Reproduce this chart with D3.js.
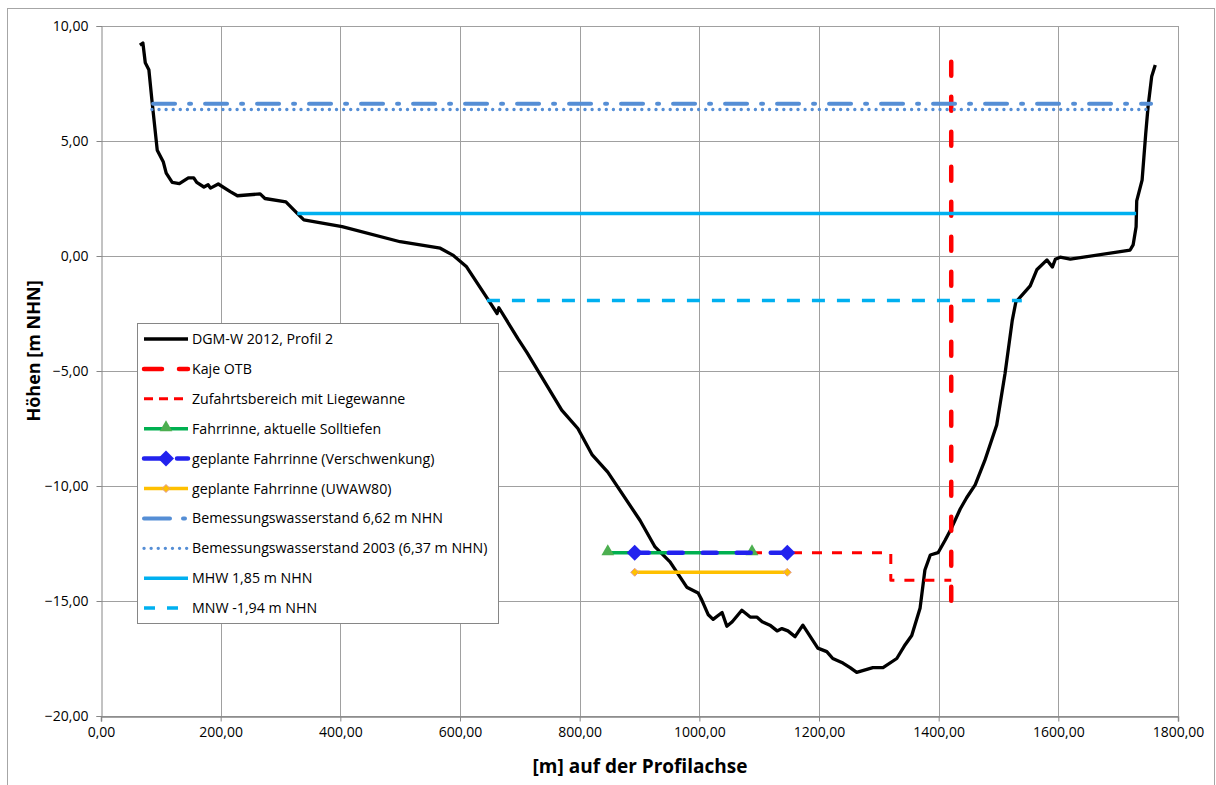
<!DOCTYPE html>
<html>
<head>
<meta charset="utf-8">
<script src="https://cdn.jsdelivr.net/npm/d3@7"></script>
<style>
  body { margin: 0; background: #fff; }
  text { font-family: "Open Sans", sans-serif; }
</style>
</head>
<body>
<div id="chart"></div>
<script>
// Querprofil 2 - Höhen entlang der Profilachse
const profileX = [65, 70, 74, 80, 85, 94, 104, 109, 119, 131, 146, 155, 160, 172, 179, 183, 196, 216, 228, 266, 274, 309, 328, 339, 403, 500, 567, 588, 611, 647, 662, 665, 697, 712, 770, 797, 821, 847, 901, 926, 951, 979, 998, 1004, 1015, 1023, 1038, 1046, 1055, 1071, 1085, 1096, 1105, 1118, 1130, 1138, 1148, 1160, 1173, 1198, 1213, 1223, 1240, 1252, 1263, 1290, 1307, 1330, 1344, 1355, 1369, 1377, 1386, 1399, 1411, 1422, 1436, 1447, 1461, 1477, 1497, 1511, 1523, 1529, 1536, 1553, 1564, 1581, 1590, 1595, 1603, 1620, 1720, 1725, 1730, 1731, 1740, 1743, 1746, 1750, 1756, 1762];
const profileY = [9.17, 9.26, 8.4, 8.1, 6.8, 4.6, 4.1, 3.6, 3.2, 3.15, 3.4, 3.4, 3.2, 3.0, 3.1, 2.95, 3.13, 2.8, 2.62, 2.7, 2.5, 2.35, 1.85, 1.57, 1.28, 0.62, 0.34, 0.04, -0.47, -1.9, -2.5, -2.25, -3.6, -4.2, -6.7, -7.5, -8.65, -9.4, -11.5, -12.65, -13.3, -14.4, -14.65, -14.95, -15.6, -15.8, -15.5, -16.1, -15.9, -15.4, -15.7, -15.7, -15.9, -16.05, -16.3, -16.2, -16.3, -16.55, -16.05, -17.05, -17.2, -17.5, -17.7, -17.9, -18.1, -17.9, -17.9, -17.5, -16.9, -16.5, -15.3, -13.65, -13.0, -12.9, -12.35, -11.8, -11.0, -10.5, -9.95, -8.9, -7.35, -5.1, -2.8, -2.0, -1.8, -1.3, -0.6, -0.17, -0.48, -0.14, -0.05, -0.14, 0.26, 0.48, 1.27, 2.4, 3.3, 4.3, 5.3, 6.5, 7.8, 8.3];

const kajeX = [1421, 1421];
const kajeY = [8.45, -15.05];
const zufahrtX = [1088, 1320, 1320, 1421];
const zufahrtY = [-12.9, -12.9, -14.1, -14.1];
const fahrrinneX = [847, 1088];
const fahrrinneY = [-12.9, -12.9];
const verschwenkungX = [892, 1147];
const verschwenkungY = [-12.9, -12.9];
const uwawX = [892, 1147];
const uwawY = [-13.75, -13.75];
const bemX = [87, 1755];
const bemY = [6.62, 6.62];
const bem2003X = [85, 1752];
const bem2003Y = [6.37, 6.37];
const mhwX = [328, 1730];
const mhwY = [1.85, 1.85];
const mnwX = [645, 1539];
const mnwY = [-1.94, -1.94];

const xTicks = [0, 200, 400, 600, 800, 1000, 1200, 1400, 1600, 1800];
const yTicks = [10, 5, 0, -5, -10, -15, -20];

const legendLabels = [
    "DGM-W 2012, Profil 2",
    "Kaje OTB",
    "Zufahrtsbereich mit Liegewanne",
    "Fahrrinne, aktuelle Solltiefen",
    "geplante Fahrrinne (Verschwenkung)",
    "geplante Fahrrinne (UWAW80)",
    "Bemessungswasserstand 6,62 m NHN",
    "Bemessungswasserstand 2003 (6,37 m NHN)",
    "MHW 1,85 m NHN",
    "MNW -1,94 m NHN"
];

const width = 1216;
const height = 785;
const margin = { top: 26, right: 38, bottom: 69, left: 101 };

const fmt = v => d3.format(".2f")(v).replace(".", ",");

const svg = d3.select("#chart").append("svg")
    .attr("width", width)
    .attr("height", height);

// outer chart frame
svg.append("rect")
    .attr("x", 7.5).attr("y", 8.5)
    .attr("width", 1207).attr("height", 790)
    .attr("fill", "#fff")
    .attr("stroke", "#a6a6a6");

const x = d3.scaleLinear().domain([0, 1800]).range([margin.left, width - margin.right]);
const y = d3.scaleLinear().domain([-20, 10]).range([height - margin.bottom, margin.top]);

// grid
svg.append("g").selectAll("line")
    .data(xTicks.slice(1))
    .join("line")
    .attr("x1", d => Math.round(x(d)) + 0.5).attr("x2", d => Math.round(x(d)) + 0.5)
    .attr("y1", y(10)).attr("y2", y(-20))
    .attr("stroke", "#a0a0a0");

svg.append("g").selectAll("line")
    .data(yTicks)
    .join("line")
    .attr("x1", x(0)).attr("x2", x(1800))
    .attr("y1", d => Math.round(y(d)) + 0.5).attr("y2", d => Math.round(y(d)) + 0.5)
    .attr("stroke", "#a0a0a0");

// axes
const xAxis = svg.append("g")
    .attr("transform", `translate(0,${y(-20) + 0.5})`)
    .call(d3.axisBottom(x).tickValues(xTicks).tickFormat(fmt).tickSize(5).tickPadding(6));
const yAxis = svg.append("g")
    .attr("transform", `translate(${x(0) + 0.5},0)`)
    .call(d3.axisLeft(y).tickValues(yTicks).tickFormat(fmt).tickSize(5).tickPadding(8));

[xAxis, yAxis].forEach(a => {
    a.select(".domain").attr("stroke", "#868686");
    a.selectAll(".tick line").attr("stroke", "#868686");
    a.selectAll(".tick text")
        .style("font-family", "'Open Sans', sans-serif")
        .style("font-size", "14px")
        .attr("fill", "#000");
});
xAxis.select(".domain").attr("stroke-width", 1.5);

// axis titles
svg.append("text")
    .attr("x", 640).attr("y", 773)
    .attr("text-anchor", "middle")
    .style("font-size", "19px")
    .style("font-weight", "700")
    .text("[m] auf der Profilachse");

svg.append("text")
    .attr("transform", "translate(40,351) rotate(-90)")
    .attr("text-anchor", "middle")
    .style("font-size", "18px")
    .style("font-weight", "700")
    .text("Höhen [m NHN]");

const line = d3.line().x(d => x(d[0])).y(d => y(d[1]));
const pts = (xs, ys) => xs.map((v, i) => [v, ys[i]]);

const styles = [
    { xs: profileX, ys: profileY, color: "#000", w: 3.3, dash: null },
    { xs: kajeX, ys: kajeY, color: "#ff0000", w: 4.5, dash: "14 21", cap: "round" },
    { xs: zufahrtX, ys: zufahrtY, color: "#ff0000", w: 3, dash: "10 10" },
    { xs: fahrrinneX, ys: fahrrinneY, color: "#00b050", w: 3.5, dash: null, marker: "triangle" },
    { xs: verschwenkungX, ys: verschwenkungY, color: "#2222ee", w: 4.5, dash: "14 20", cap: "round", marker: "bigdiamond" },
    { xs: uwawX, ys: uwawY, color: "#ffc000", w: 3.5, dash: null, marker: "smalldiamond" },
    { xs: bemX, ys: bemY, color: "#558ed5", w: 4, dash: "22 14 2 14", cap: "round" },
    { xs: bem2003X, ys: bem2003Y, color: "#558ed5", w: 3.3, dash: "0.1 7", cap: "round" },
    { xs: mhwX, ys: mhwY, color: "#00b0f0", w: 3.5, dash: null },
    { xs: mnwX, ys: mnwY, color: "#00b0f0", w: 3.5, dash: "13 12" }
];

function drawMarker(g, type, cx, cy) {
    if (type === "triangle") {
        g.append("path")
            .attr("d", d3.symbol(d3.symbolTriangle, 70)())
            .attr("transform", `translate(${cx},${cy - 1})`)
            .attr("fill", "#4caf50");
    } else if (type === "bigdiamond") {
        g.append("path")
            .attr("d", "M0,-8L8,0L0,8L-8,0Z")
            .attr("transform", `translate(${cx},${cy})`)
            .attr("fill", "#2222ee");
    } else if (type === "smalldiamond") {
        g.append("path")
            .attr("d", "M0,-4L4,0L0,4L-4,0Z")
            .attr("transform", `translate(${cx},${cy})`)
            .attr("fill", "#ffc000")
            .attr("stroke", "#e09a9a")
            .attr("stroke-width", 1);
    }
}

const plot = svg.append("g");
styles.forEach(s => {
    plot.append("path")
        .attr("d", line(pts(s.xs, s.ys)))
        .attr("fill", "none")
        .attr("stroke", s.color)
        .attr("stroke-width", s.w)
        .attr("stroke-dasharray", s.dash)
        .attr("stroke-linecap", s.cap || "butt")
        .attr("stroke-linejoin", "round");
    if (s.marker) {
        s.xs.forEach((v, i) => drawMarker(plot, s.marker, x(v), y(s.ys[i])));
    }
});

// legend
const legend = svg.append("g");
legend.append("rect")
    .attr("x", 137.5).attr("y", 323.5)
    .attr("width", 361).attr("height", 300)
    .attr("fill", "#fff")
    .attr("stroke", "#868686");

const legendDash = [null, "18 17", "9 6", null, "20 13", null, "26 13 2 13", "0.1 7", null, "11 12"];
styles.forEach((s, i) => {
    const cy = 339 + i * 29.9;
    legend.append("line")
        .attr("x1", 144).attr("x2", 188)
        .attr("y1", cy).attr("y2", cy)
        .attr("stroke", s.color)
        .attr("stroke-width", s.w)
        .attr("stroke-dasharray", legendDash[i])
        .attr("stroke-linecap", s.cap || "butt");
    if (s.marker) drawMarker(legend, s.marker, 166, cy);
    legend.append("text")
        .attr("x", 192).attr("y", cy + 5)
        .style("font-size", "14.2px")
        .text(legendLabels[i]);
});
</script>
</body>
</html>
